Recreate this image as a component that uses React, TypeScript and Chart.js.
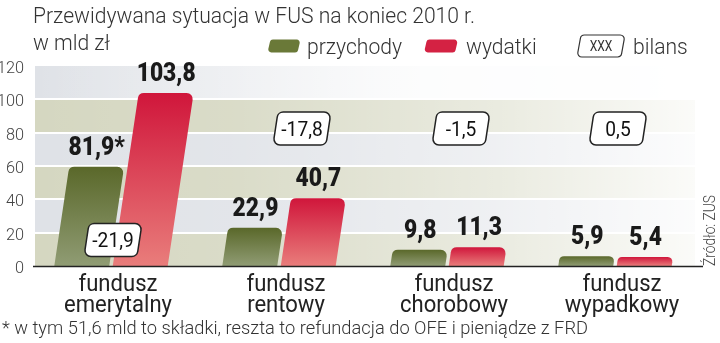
import React, { useEffect, useRef } from "react";
import { Chart, registerables } from "chart.js";

Chart.register(...registerables);

// ---- data ----
const categories = [
  ["fundusz", "emerytalny"],
  ["fundusz", "rentowy"],
  ["fundusz", "chorobowy"],
  ["fundusz", "wypadkowy"],
];
const przychody = [59.6, 22.9, 9.8, 5.9]; // bar heights as drawn
const wydatki = [103.8, 40.7, 11.3, 5.4];
const przychodyLabels = ["81,9*", "22,9", "9,8", "5,9"];
const wydatkiLabels = ["103,8", "40,7", "11,3", "5,4"];
const bilansLabels = ["-21,9", "-17,8", "-1,5", "0,5"];
const yTicks = [0, 20, 40, 60, 80, 100, 120];

const TITLE = "Przewidywana sytuacja w FUS na koniec 2010 r.";
const UNIT = "w mld zł";
const FOOTNOTE = "* w tym 51,6 mld to składki, reszta to refundacja do OFE i pieniądze z FRD";
const SOURCE = "Źródło: ZUS";
const LEGEND = ["przychody", "wydatki", "bilans"];

const FAMILY = 'Roboto, "Noto Sans", "DejaVu Sans", sans-serif';

// ---- styling / layout constants ----
const SLANT = 0.15;
const boxY = [15.6, 82.5, 82.5, 82.5];
const boxDX = [2, 23, 14, 3];
const labelDX = 7;

function roundPoly(ctx: CanvasRenderingContext2D, pts: number[][], r: number) {
  const n = pts.length;
  const a = pts[n - 1];
  const b = pts[0];
  ctx.beginPath();
  ctx.moveTo((a[0] + b[0]) / 2, (a[1] + b[1]) / 2);
  for (let i = 0; i < n; i++) {
    const p = pts[i];
    const q = pts[(i + 1) % n];
    ctx.arcTo(p[0], p[1], q[0], q[1], r);
  }
  ctx.closePath();
}

function slantBar(ctx: CanvasRenderingContext2D, xb: number, base: number, top: number, w: number, r: number) {
  const h = base - top;
  const shift = h * SLANT;
  const rr = Math.min(r, h / 2, w / 2);
  ctx.beginPath();
  ctx.moveTo(xb - w / 2, base);
  ctx.lineTo(xb + w / 2, base);
  ctx.arcTo(xb + w / 2 + shift, top, xb - w / 2 + shift, top, rr);
  ctx.arcTo(xb - w / 2 + shift, top, xb - w / 2, base, rr);
  ctx.closePath();
}

function slantBox(ctx: CanvasRenderingContext2D, cx: number, cy: number, w: number, h: number, s: number, r: number) {
  roundPoly(
    ctx,
    [
      [cx - w / 2 + s / 2, cy - h / 2],
      [cx + w / 2 + s / 2, cy - h / 2],
      [cx + w / 2 - s / 2, cy + h / 2],
      [cx - w / 2 - s / 2, cy + h / 2],
    ],
    r
  );
}

// draw text compressed horizontally (condensed look)
function txt(
  ctx: CanvasRenderingContext2D,
  s: string,
  x: number,
  y: number,
  font: string,
  sx: number,
  align: CanvasTextAlign,
  baseline: CanvasTextBaseline = "alphabetic"
) {
  ctx.save();
  ctx.font = font;
  ctx.textAlign = align;
  ctx.textBaseline = baseline;
  ctx.translate(x, y);
  ctx.scale(sx, 1);
  ctx.fillText(s, 0, 0);
  ctx.restore();
}

function fitScale(ctx: CanvasRenderingContext2D, s: string, font: string, target: number) {
  ctx.save();
  ctx.font = font;
  const w = ctx.measureText(s).width;
  ctx.restore();
  return w > 0 ? target / w : 1;
}

const F_REG = `300 22px ${FAMILY}`;
const F_BOLD = `900 26px ${FAMILY}`;

const backgroundPlugin = {
  id: "bgBands",
  beforeDatasetsDraw(chart: any) {
    const ctx: CanvasRenderingContext2D = chart.ctx;
    const y = chart.scales.y;
    const x0 = 35;
    const x1 = 695;
    ctx.save();
    for (let i = 0; i < yTicks.length - 1; i++) {
      const yt = y.getPixelForValue(yTicks[i + 1]);
      const yb = y.getPixelForValue(yTicks[i]);
      ctx.fillStyle = i % 2 === 0 ? "#d5d7c1" : "#dfe2e7";
      ctx.fillRect(x0, yt, x1 - x0, yb - yt);
    }
    const g = ctx.createLinearGradient(x0, 0, x1, 0);
    g.addColorStop(0, "rgba(255,255,255,0)");
    g.addColorStop(0.3, "rgba(255,255,255,0.12)");
    g.addColorStop(0.7, "rgba(255,255,255,0.5)");
    g.addColorStop(1, "rgba(255,255,255,0.9)");
    ctx.fillStyle = g;
    ctx.fillRect(x0, y.getPixelForValue(120), x1 - x0, y.getPixelForValue(0) - y.getPixelForValue(120));
    const g2 = ctx.createLinearGradient(x0, 0, 420, 0);
    g2.addColorStop(0, "rgba(255,255,255,0)");
    g2.addColorStop(1, "rgba(255,255,255,0.85)");
    ctx.fillStyle = g2;
    const t1 = y.getPixelForValue(120);
    const t2 = y.getPixelForValue(100);
    ctx.fillRect(x0, t1, 420 - x0, t2 - t1);
    ctx.fillStyle = "rgba(255,255,255,0.85)";
    ctx.fillRect(420, t1, x1 - 420, t2 - t1);
    ctx.strokeStyle = "#ffffff";
    ctx.lineWidth = 2;
    for (const v of yTicks) {
      if (v === 0 || v === 120) continue;
      const yy = Math.round(y.getPixelForValue(v));
      ctx.beginPath();
      ctx.moveTo(x0, yy);
      ctx.lineTo(x1, yy);
      ctx.stroke();
    }
    ctx.restore();
  },
};

const barsPlugin = {
  id: "slantBars",
  afterDatasetsDraw(chart: any) {
    const ctx: CanvasRenderingContext2D = chart.ctx;
    const yScale = chart.scales.y;
    const xScale = chart.scales.x;
    const sxB = fitScale(ctx, "103,8", F_BOLD, 59);
    const sxR = fitScale(ctx, TITLE, F_REG, 442);
    ctx.save();
    const colors = [
      ["#5a682a", "#909c74"],
      ["#d0163b", "#e97d7b"],
    ];
    const labelSets = [przychodyLabels, wydatkiLabels];
    [0, 1].forEach((di) => {
      const meta = chart.getDatasetMeta(di);
      meta.data.forEach((el: any, i: number) => {
        const xb = el.x;
        const top = el.y;
        const base = el.base;
        const w = el.width;
        const g = ctx.createLinearGradient(0, top, 0, base);
        g.addColorStop(0, colors[di][0]);
        g.addColorStop(1, colors[di][1]);
        ctx.fillStyle = g;
        slantBar(ctx, xb, base, top, w, 6);
        ctx.fill();
        const tc = xb + (base - top) * SLANT;
        ctx.fillStyle = "#1a1a1a";
        txt(ctx, labelSets[di][i], tc, top - 12, F_BOLD, sxB, "center");
      });
    });
    bilansLabels.forEach((lab, i) => {
      const cx = xScale.getPixelForValue(i) + boxDX[i];
      const cy = yScale.getPixelForValue(boxY[i]);
      slantBox(ctx, cx, cy, 53, 33, 5, 6);
      ctx.fillStyle = "#ffffff";
      ctx.fill();
      ctx.strokeStyle = "#222222";
      ctx.lineWidth = 1.5;
      ctx.stroke();
      ctx.fillStyle = "#111111";
      txt(ctx, lab, cx, cy + 7, `20px ${FAMILY}`, sxR, "center");
    });
    const y0 = Math.round(yScale.getPixelForValue(0)) + 0.5;
    ctx.strokeStyle = "#222222";
    ctx.lineWidth = 1.5;
    ctx.beginPath();
    ctx.moveTo(33, y0);
    ctx.lineTo(703, y0);
    ctx.stroke();
    ctx.restore();
  },
};

const textPlugin = {
  id: "texts",
  afterDraw(chart: any) {
    const ctx: CanvasRenderingContext2D = chart.ctx;
    const yScale = chart.scales.y;
    const xScale = chart.scales.x;
    const sx = fitScale(ctx, TITLE, F_REG, 442);
    ctx.save();
    ctx.fillStyle = "#333333";
    txt(ctx, TITLE, 33, 23, F_REG, sx, "left");
    txt(ctx, UNIT, 33, 50, F_REG, sx, "left");
    // legend
    ctx.fillStyle = "#6a7938";
    slantBox(ctx, 284, 46, 30, 13, 3, 3);
    ctx.fill();
    ctx.fillStyle = "#d42243";
    slantBox(ctx, 441, 46, 31, 13, 3, 3);
    ctx.fill();
    slantBox(ctx, 601, 46, 44, 22, 4, 4);
    ctx.fillStyle = "#ffffff";
    ctx.fill();
    ctx.strokeStyle = "#333333";
    ctx.lineWidth = 1.2;
    ctx.stroke();
    ctx.fillStyle = "#333333";
    txt(ctx, LEGEND[0], 307, 54, F_REG, sx, "left");
    txt(ctx, LEGEND[1], 466, 54, F_REG, sx, "left");
    txt(ctx, LEGEND[2], 633, 54, F_REG, sx, "left");
    txt(ctx, "XXX", 601, 51, `14px ${FAMILY}`, sx * 0.9, "center");
    // y ticks
    ctx.fillStyle = "#444444";
    for (const v of yTicks) {
      txt(ctx, String(v), 24, yScale.getPixelForValue(v) + 7, `300 17px ${FAMILY}`, sx, "right");
    }
    // x labels
    ctx.fillStyle = "#222222";
    categories.forEach((lines, i) => {
      const cx = xScale.getPixelForValue(i) + labelDX;
      txt(ctx, lines[0], cx, 291, `23px ${FAMILY}`, sx, "center");
      txt(ctx, lines[1], cx, 312, `23px ${FAMILY}`, sx, "center");
    });
    // footnote
    ctx.fillStyle = "#333333";
    const F_FOOT = `300 19px ${FAMILY}`;
    txt(ctx, FOOTNOTE, 2, 334, F_FOOT, fitScale(ctx, FOOTNOTE, F_FOOT, 586), "left");
    // source
    ctx.translate(715, 266);
    ctx.rotate(-Math.PI / 2);
    ctx.fillStyle = "#444444";
    const F_SRC = `300 16px ${FAMILY}`;
    txt(ctx, SOURCE, 0, 0, F_SRC, fitScale(ctx, SOURCE, F_SRC, 71), "left");
    ctx.restore();
  },
};

export default function App() {
  const ref = useRef<HTMLCanvasElement | null>(null);
  useEffect(() => {
    document.body.style.margin = "0";
    const canvas = ref.current;
    if (!canvas) return;
    const chart = new Chart(canvas, {
      type: "bar",
      data: {
        labels: categories.map((c) => c.join(" ")),
        datasets: [
          { label: LEGEND[0], data: przychody, backgroundColor: "rgba(0,0,0,0)", borderWidth: 0 },
          { label: LEGEND[1], data: wydatki, backgroundColor: "rgba(0,0,0,0)", borderWidth: 0 },
        ],
      },
      options: {
        responsive: false,
        animation: false,
        devicePixelRatio: 1,
        layout: { padding: { left: 27, right: 21, top: 66, bottom: 77 } },
        datasets: { bar: { barPercentage: 0.94, categoryPercentage: 0.696 } },
        scales: {
          x: { display: false, offset: true },
          y: { display: false, min: 0, max: 120 },
        },
        plugins: { legend: { display: false }, tooltip: { enabled: false } },
      },
      plugins: [backgroundPlugin, barsPlugin, textPlugin],
    });
    return () => chart.destroy();
  }, []);
  return <canvas ref={ref} width={720} height={343} style={{ display: "block" }} />;
}
